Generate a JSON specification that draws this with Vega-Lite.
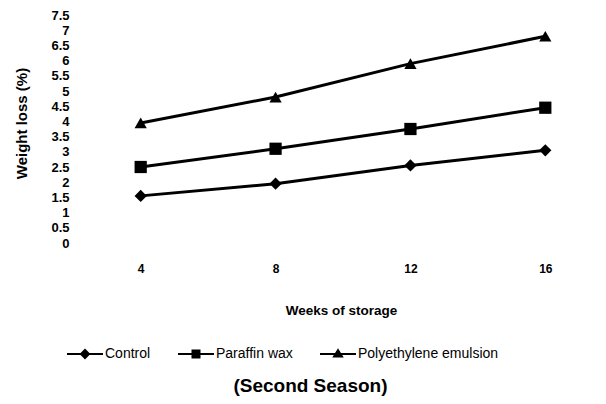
{
  "$schema": "https://vega.github.io/schema/vega-lite/v6.json",
  "autosize": "none",
  "width": 526,
  "height": 228,
  "padding": {"left": 80, "top": 15, "right": 0, "bottom": 161},
  "background": "white",
  "title": {
    "text": "(Second Season)",
    "orient": "bottom",
    "frame": "bounds",
    "anchor": "middle",
    "font": "Liberation Sans",
    "fontSize": 19,
    "fontWeight": "bold",
    "color": "black",
    "offset": 16
  },
  "data": {
    "values": [
      {"week": 4, "series": "Control", "loss": 1.55},
      {"week": 8, "series": "Control", "loss": 1.95},
      {"week": 12, "series": "Control", "loss": 2.55},
      {"week": 16, "series": "Control", "loss": 3.05},
      {"week": 4, "series": "Paraffin wax", "loss": 2.5},
      {"week": 8, "series": "Paraffin wax", "loss": 3.1},
      {"week": 12, "series": "Paraffin wax", "loss": 3.75},
      {"week": 16, "series": "Paraffin wax", "loss": 4.45},
      {"week": 4, "series": "Polyethylene emulsion", "loss": 3.95},
      {"week": 8, "series": "Polyethylene emulsion", "loss": 4.8},
      {"week": 12, "series": "Polyethylene emulsion", "loss": 5.9},
      {"week": 16, "series": "Polyethylene emulsion", "loss": 6.8}
    ]
  },
  "encoding": {
    "x": {
      "field": "week",
      "type": "ordinal",
      "scale": {"type": "point", "padding": 0.45},
      "axis": {
        "title": "Weeks of storage",
        "labelAngle": 0,
        "labelPadding": 20,
        "titlePadding": 29,
        "labelFont": "Liberation Sans",
        "labelFontSize": 12,
        "labelFontWeight": "bold",
        "titleFont": "Liberation Sans",
        "titleFontSize": 13.5,
        "titleFontWeight": "bold",
        "titleX": 261
      }
    },
    "y": {
      "field": "loss",
      "type": "quantitative",
      "scale": {"domain": [0, 7.5], "nice": false, "zero": true},
      "axis": {
        "title": "Weight loss (%)",
        "values": [0, 0.5, 1, 1.5, 2, 2.5, 3, 3.5, 4, 4.5, 5, 5.5, 6, 6.5, 7, 7.5],
        "format": "~g",
        "labelPadding": 11,
        "labelOverlap": false,
        "labelFont": "Liberation Sans",
        "labelFontSize": 13,
        "labelFontWeight": "bold",
        "titleFont": "Liberation Sans",
        "titleFontSize": 15,
        "titleFontWeight": "bold",
        "titlePadding": 21,
        "titleY": 108
      }
    }
  },
  "layer": [
    {
      "mark": {"type": "line", "color": "black", "strokeWidth": 3},
      "encoding": {"detail": {"field": "series", "type": "nominal"}}
    },
    {
      "mark": {"type": "point", "filled": true, "color": "black", "opacity": 1, "size": 150},
      "encoding": {
        "shape": {
          "field": "series",
          "type": "nominal",
          "scale": {
            "domain": ["Control", "Paraffin wax", "Polyethylene emulsion"],
            "range": ["diamond", "square", "triangle-up"]
          },
          "legend": null
        }
      }
    },
    {
      "mark": {"type": "point", "filled": true, "color": "black", "size": 0},
      "encoding": {
        "shape": {
          "field": "series",
          "type": "nominal",
          "scale": {
            "domain": ["Control", "Paraffin wax", "Polyethylene emulsion"],
            "range": [
              "M-1,-0.06H1V0.06H-1ZM0,-0.3L0.3,0L0,0.3L-0.3,0Z",
              "M-1,-0.06H1V0.06H-1ZM-0.25,-0.25H0.25V0.25H-0.25Z",
              "M-1,-0.06H1V0.06H-1ZM0,-0.32L0.32,0.2H-0.32Z"
            ]
          },
          "legend": {
            "title": null,
            "orient": "none",
            "direction": "horizontal",
            "legendX": -13,
            "legendY": 321,
            "symbolSize": 1296,
            "symbolOpacity": 1,
            "symbolFillColor": "black",
            "symbolStrokeColor": "black",
            "symbolStrokeWidth": 0,
            "labelFont": "Liberation Sans",
            "labelFontSize": 14,
            "labelColor": "black",
            "labelOffset": 2,
            "columnPadding": 27
          }
        }
      }
    }
  ],
  "resolve": {"scale": {"shape": "independent"}},
  "config": {
    "view": {"stroke": null},
    "axis": {"grid": false, "domain": false, "ticks": false, "labelColor": "black", "titleColor": "black"}
  }
}
